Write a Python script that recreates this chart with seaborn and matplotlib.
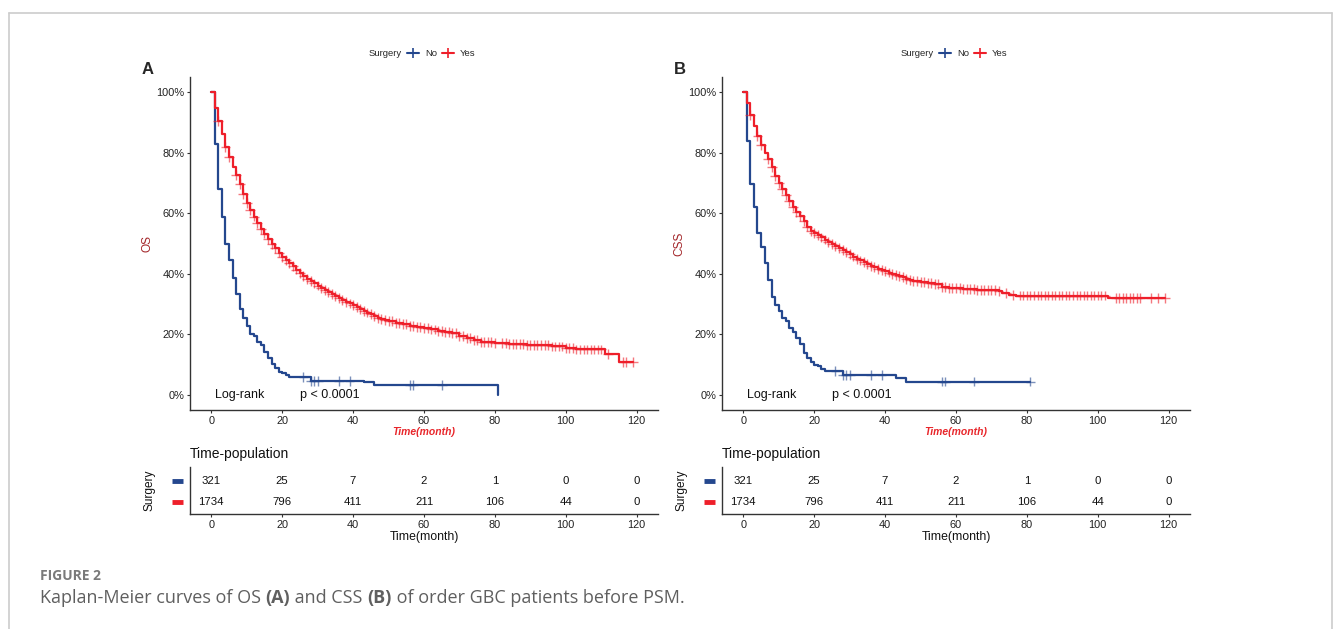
import numpy as np
import pandas as pd
import matplotlib
matplotlib.use("Agg")
import matplotlib.pyplot as plt
import matplotlib.transforms as mtransforms
import seaborn as sns
from matplotlib.lines import Line2D
from matplotlib.ticker import PercentFormatter

# ---- data ----
# OS, Surgery = No
os_no_time = [0, 1, 2, 3, 4, 5, 6, 7, 8, 9, 10, 11, 12, 13, 14, 15, 16, 17, 18, 19, 20, 21, 22, 28, 43, 46, 81]
os_no_surv = [1.0, 0.829, 0.680, 0.589, 0.499, 0.444, 0.387, 0.334, 0.283, 0.253, 0.226, 0.200, 0.193,
              0.175, 0.164, 0.141, 0.123, 0.102, 0.088, 0.077, 0.072, 0.066, 0.058, 0.047, 0.041, 0.032, 0.0]
os_no_cens = [26, 28, 29, 30, 36, 39, 56, 57, 65]
os_no_end = 81

# OS, Surgery = Yes
os_yes_time = [0, 1, 2, 3, 4, 5, 6, 7, 8, 9, 10, 11, 12, 13, 14, 15, 16, 17, 18, 19, 20, 21, 22, 23, 24, 25,
               26, 27, 28, 29, 30, 31, 32, 33, 34, 35, 36, 37, 38, 39, 40, 41, 42, 43, 44, 45, 46, 47, 48, 49,
               50, 52, 54, 56, 58, 60, 62, 64, 66, 68, 70, 72, 74, 76, 80, 84, 89, 96, 100, 103, 111, 115]
os_yes_surv = [1.0, 0.947, 0.905, 0.861, 0.819, 0.787, 0.753, 0.727, 0.697, 0.664, 0.635, 0.611, 0.589,
               0.567, 0.548, 0.533, 0.515, 0.499, 0.485, 0.470, 0.455, 0.445, 0.435, 0.425, 0.414, 0.402,
               0.392, 0.383, 0.375, 0.368, 0.361, 0.354, 0.347, 0.340, 0.333, 0.326, 0.320, 0.314, 0.308,
               0.302, 0.296, 0.290, 0.284, 0.278, 0.272, 0.266, 0.260, 0.255, 0.250, 0.246, 0.243, 0.238,
               0.233, 0.228, 0.224, 0.220, 0.216, 0.212, 0.208, 0.203, 0.195, 0.188, 0.180, 0.174, 0.170,
               0.167, 0.164, 0.160, 0.155, 0.150, 0.134, 0.108]
os_yes_cens = [2, 4, 5, 7, 8, 9, 10, 11, 12, 13, 14, 15, 16, 17, 18, 19, 20, 21, 22, 23, 24, 25, 26, 27, 28,
               29, 30, 31, 32, 33, 34, 35, 36, 37, 38, 39, 40, 41, 42, 43, 44, 45, 46, 47, 48, 49, 50, 51, 52,
               53, 54, 55, 56, 57, 58, 59, 60, 61, 62, 63, 64, 65, 66, 67, 68, 69, 70, 71, 72, 73, 74, 75, 76,
               77, 78, 79, 80, 82, 83, 84, 85, 86, 87, 88, 89, 90, 91, 92, 93, 94, 95, 96, 97, 98, 99, 100,
               101, 102, 103, 104, 105, 106, 107, 108, 109, 110, 112, 116, 117, 119]
os_yes_end = 119

# CSS, Surgery = No
css_no_time = [0, 1, 2, 3, 4, 5, 6, 7, 8, 9, 10, 11, 12, 13, 14, 15, 16, 17, 18, 19, 20, 21, 22, 23, 28, 43, 46]
css_no_surv = [1.0, 0.840, 0.697, 0.620, 0.536, 0.488, 0.435, 0.378, 0.323, 0.297, 0.278, 0.253, 0.244,
               0.220, 0.207, 0.189, 0.168, 0.138, 0.121, 0.110, 0.099, 0.094, 0.085, 0.080, 0.065, 0.056, 0.044]
css_no_cens = [26, 28, 29, 30, 36, 39, 56, 57, 65, 81]
css_no_end = 81

# CSS, Surgery = Yes
css_yes_time = [0, 1, 2, 3, 4, 5, 6, 7, 8, 9, 10, 11, 12, 13, 14, 15, 16, 17, 18, 19, 20, 21, 22, 23, 24, 25,
                26, 27, 28, 29, 30, 31, 32, 33, 34, 35, 36, 37, 38, 39, 40, 41, 42, 43, 44, 45, 46, 47, 48,
                50, 52, 54, 56, 58, 62, 66, 72, 73, 75, 77, 103]
css_yes_surv = [1.0, 0.964, 0.925, 0.889, 0.856, 0.825, 0.798, 0.779, 0.752, 0.724, 0.700, 0.680, 0.660,
                0.641, 0.622, 0.604, 0.590, 0.573, 0.556, 0.542, 0.534, 0.528, 0.520, 0.513, 0.506, 0.498,
                0.491, 0.485, 0.478, 0.471, 0.464, 0.457, 0.450, 0.444, 0.438, 0.432, 0.427, 0.422, 0.417,
                0.412, 0.408, 0.404, 0.400, 0.396, 0.392, 0.388, 0.384, 0.380, 0.377, 0.373, 0.370, 0.366,
                0.357, 0.354, 0.349, 0.347, 0.342, 0.337, 0.331, 0.328, 0.320]
css_yes_cens = [2, 4, 5, 7, 8, 9, 10, 11, 12, 13, 14, 15, 16, 17, 18, 19, 20, 21, 22, 23, 24, 25, 26, 27, 28,
                29, 30, 31, 32, 33, 34, 35, 36, 37, 38, 39, 40, 41, 42, 43, 44, 45, 46, 47, 48, 49, 50, 51,
                52, 53, 54, 55, 56, 57, 58, 59, 60, 61, 62, 63, 64, 65, 66, 67, 68, 69, 70, 71, 72, 74, 76,
                78, 79, 80, 81, 82, 83, 84, 85, 86, 87, 88, 89, 90, 91, 92, 93, 94, 95, 96, 97, 98, 99, 100,
                101, 102, 105, 106, 107, 108, 109, 110, 111, 112, 115, 117, 119]
css_yes_end = 119

# number at risk
risk_times = [0, 20, 40, 60, 80, 100, 120]
risk_no = [321, 25, 7, 2, 1, 0, 0]
risk_yes = [1734, 796, 411, 211, 106, 44, 0]

groups = ["No", "Yes"]
BLUE = "#24478E"
RED = "#EE1F2A"
pal = {"No": BLUE, "Yes": RED}

W, H = 1335, 629


def fx(px):
    return px / W


def fy(py):
    return 1 - py / H


def curve_frames(name, times, surv, cens, end):
    t = list(times) + [end]
    s = list(surv) + [surv[-1]]
    steps = pd.DataFrame({"time": t, "surv": s, "Surgery": name})
    idx = np.searchsorted(times, cens, side="right") - 1
    marks = pd.DataFrame({"time": cens, "surv": np.asarray(surv)[idx], "Surgery": name})
    return steps, marks


sns.set_style("ticks")
plt.rcParams["font.family"] = ["Liberation Sans", "DejaVu Sans"]

fig = plt.figure(figsize=(W / 100, H / 100), dpi=100)


def draw_panel(left_px, curves, ylabel, letter):
    ax = fig.add_axes([fx(left_px), fy(410), fx(468), 333 / H])
    tax = fig.add_axes([fx(left_px), fy(514), fx(468), 47 / H])

    steps = pd.concat([c[0] for c in curves], ignore_index=True)
    marks = pd.concat([c[1] for c in curves], ignore_index=True)
    sns.lineplot(data=steps, x="time", y="surv", hue="Surgery", hue_order=groups, palette=pal,
                 estimator=None, sort=False, drawstyle="steps-post", lw=1.6, legend=False, ax=ax)
    sns.scatterplot(data=marks, x="time", y="surv", hue="Surgery", hue_order=groups, palette=pal,
                    marker="+", s=50, linewidth=1.0, alpha=0.6, legend=False, ax=ax, zorder=3)

    ax.set_xlim(-6, 126)
    ax.set_ylim(-0.05, 1.05)
    ax.set_xticks(risk_times)
    ax.set_yticks([0, 0.2, 0.4, 0.6, 0.8, 1.0])
    ax.yaxis.set_major_formatter(PercentFormatter(1.0, decimals=0))
    ax.tick_params(labelsize=7.9, length=2.5, width=0.8, pad=1.5, color="#333333", labelcolor="#222222")
    sns.despine(ax=ax)
    for sp in ("left", "bottom"):
        ax.spines[sp].set_linewidth(1.0)
        ax.spines[sp].set_color("#333333")
    ax.set_xlabel("Time(month)", color="#E8262B", fontweight="bold", fontstyle="italic", fontsize=7.5)
    ax.xaxis.set_label_coords(0.5, -0.05)
    ax.set_ylabel(ylabel, color="#A3262A", fontsize=8.6)
    ax.yaxis.set_label_coords(-0.079, 0.5)

    ax.text(1, 0, "Log-rank", fontsize=9, va="center", color="#111111")
    ax.text(25, 0, "p < 0.0001", fontsize=9, va="center", color="#111111")

    fig.text(fx(left_px - 48), fy(70), letter, fontweight="bold", fontsize=12, va="center")

    # legend on top
    fig.text(fx(left_px + 212), fy(54), "Surgery", ha="right", va="center", fontsize=6.8)
    handles = [Line2D([0], [0], color=pal[g], lw=1.5, marker="+", ms=7, mew=1.2) for g in groups]
    ax.legend(handles, groups, loc="center left", bbox_to_anchor=(fx(left_px + 217), fy(54)),
              bbox_transform=fig.transFigure, ncol=2, frameon=False, fontsize=6.8,
              handlelength=1.3, handletextpad=0.6, columnspacing=0.5, borderpad=0, borderaxespad=0)

    # risk table
    tax.set_xlim(-6, 126)
    tax.set_ylim(-0.57, 1.67)
    tax.set_xticks(risk_times)
    tax.set_yticks([])
    for t, n_no, n_yes in zip(risk_times, risk_no, risk_yes):
        tax.text(t, 1, str(n_no), ha="center", va="center", fontsize=8.2, color="#111111")
        tax.text(t, 0, str(n_yes), ha="center", va="center", fontsize=8.2, color="#111111")
    trans = mtransforms.blended_transform_factory(tax.transAxes, tax.transData)
    for g, yy in zip(groups, [1, 0]):
        tax.plot([-0.038, -0.015], [yy, yy], transform=trans, color=pal[g], lw=3.5,
                 solid_capstyle="butt", clip_on=False)
    tax.tick_params(labelsize=7.9, length=2.5, width=0.8, pad=1.5, color="#333333", labelcolor="#222222")
    sns.despine(ax=tax)
    for sp in ("left", "bottom"):
        tax.spines[sp].set_linewidth(1.0)
        tax.spines[sp].set_color("#333333")
    tax.set_xlabel("Time(month)", fontsize=8.8, color="#111111")
    tax.xaxis.set_label_coords(0.5, -0.36)
    tax.set_ylabel("Surgery", fontsize=8.6, color="#111111")
    tax.yaxis.set_label_coords(-0.073, 0.5)
    fig.text(fx(left_px), fy(454), "Time-population", fontsize=10, va="center", color="#111111")


os_curves = [curve_frames("No", os_no_time, os_no_surv, os_no_cens, os_no_end),
             curve_frames("Yes", os_yes_time, os_yes_surv, os_yes_cens, os_yes_end)]
css_curves = [curve_frames("No", css_no_time, css_no_surv, css_no_cens, css_no_end),
              curve_frames("Yes", css_yes_time, css_yes_surv, css_yes_cens, css_yes_end)]

draw_panel(190, os_curves, "OS", "A")
draw_panel(722, css_curves, "CSS", "B")

# page frame
frame_kw = dict(color="#cccccc", lw=1.2)
fig.add_artist(Line2D([fx(9), fx(1332)], [fy(13), fy(13)], **frame_kw))
fig.add_artist(Line2D([fx(9), fx(9)], [fy(13), 0], **frame_kw))
fig.add_artist(Line2D([fx(1332), fx(1332)], [fy(13), 0], **frame_kw))

# caption
fig.text(fx(40), fy(576), "FIGURE 2", fontsize=10, fontweight="bold", color="#7a7a7a",
         va="center", family=["Open Sans", "DejaVu Sans"])
segments = [("Kaplan-Meier curves of OS ", "normal"), ("(A)", "bold"), (" and CSS ", "normal"),
            ("(B)", "bold"), (" of order GBC patients before PSM.", "normal")]
renderer = fig.canvas.get_renderer()
x = fx(40)
for txt, wt in segments:
    t = fig.text(x, fy(598), txt, fontsize=13.0, fontweight=wt, color="#5f5f5f", va="center",
                 family=["Open Sans", "DejaVu Sans"])
    bb = t.get_window_extent(renderer=renderer)
    x += bb.width / W

fig.savefig("out.png", dpi=100)
